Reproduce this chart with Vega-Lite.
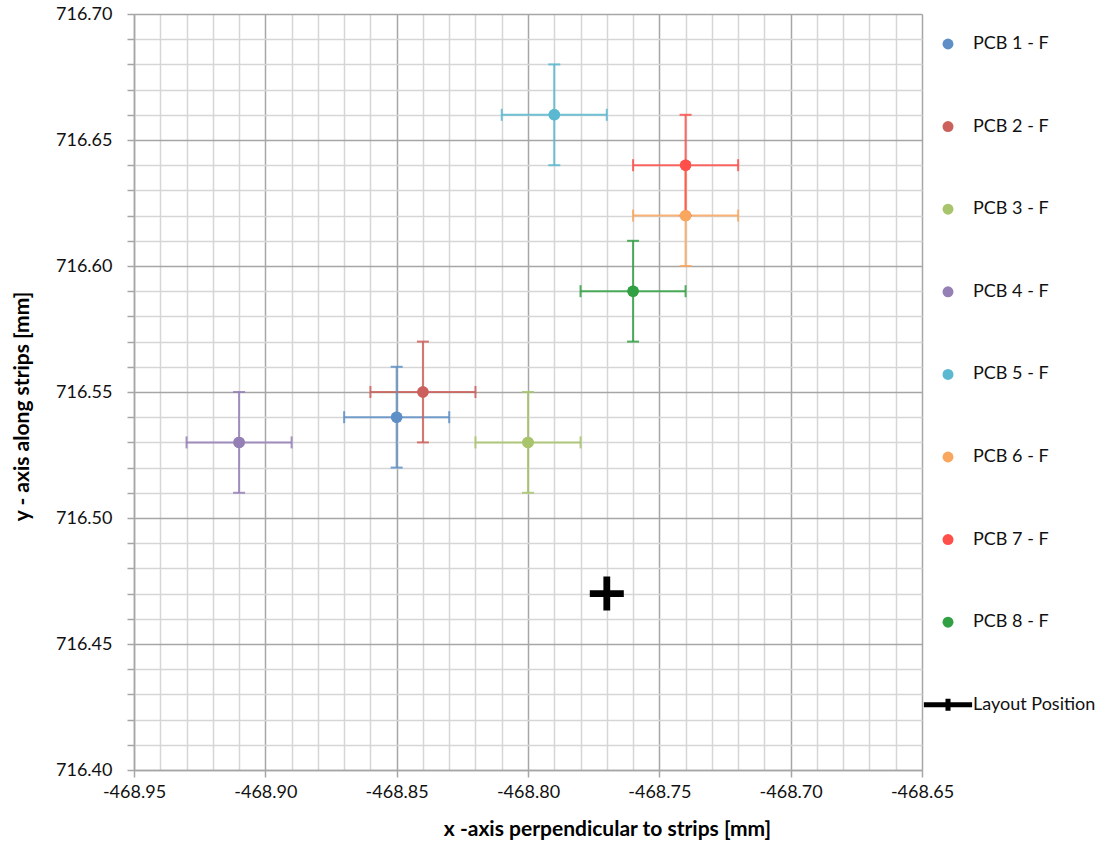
{
  "$schema": "https://vega.github.io/schema/vega-lite/v6.json",
  "width": 788,
  "height": 756,
  "autosize": {"type": "none"},
  "padding": {"left": 134, "top": 14, "right": 192, "bottom": 73},
  "background": "white",
  "config": {
    "view": {"stroke": null},
    "axis": {
      "labelFont": "Lato",
      "labelFontSize": 18,
      "labelColor": "#111111",
      "titleFont": "Lato",
      "titleFontSize": 21,
      "titleFontWeight": "bold",
      "titleColor": "#000000",
      "domainColor": "#a6a6a6",
      "domainWidth": 1.5,
      "tickColor": "#a6a6a6",
      "tickWidth": 1.5,
      "tickCount": 30,
      "labelOverlap": false,
      "labelFlush": false
    }
  },
  "data": {
    "values": [
      {"series": "PCB 1 - F", "x": -468.85, "y": 716.54, "xlo": -468.87, "xhi": -468.83, "ylo": 716.52, "yhi": 716.56},
      {"series": "PCB 2 - F", "x": -468.84, "y": 716.55, "xlo": -468.86, "xhi": -468.82, "ylo": 716.53, "yhi": 716.57},
      {"series": "PCB 3 - F", "x": -468.80, "y": 716.53, "xlo": -468.82, "xhi": -468.78, "ylo": 716.51, "yhi": 716.55},
      {"series": "PCB 4 - F", "x": -468.91, "y": 716.53, "xlo": -468.93, "xhi": -468.89, "ylo": 716.51, "yhi": 716.55},
      {"series": "PCB 5 - F", "x": -468.79, "y": 716.66, "xlo": -468.81, "xhi": -468.77, "ylo": 716.64, "yhi": 716.68},
      {"series": "PCB 6 - F", "x": -468.74, "y": 716.62, "xlo": -468.76, "xhi": -468.72, "ylo": 716.60, "yhi": 716.64},
      {"series": "PCB 7 - F", "x": -468.74, "y": 716.64, "xlo": -468.76, "xhi": -468.72, "ylo": 716.62, "yhi": 716.66},
      {"series": "PCB 8 - F", "x": -468.76, "y": 716.59, "xlo": -468.78, "xhi": -468.74, "ylo": 716.57, "yhi": 716.61},
      {"series": "Layout Position", "x": -468.77, "y": 716.47}
    ]
  },
  "layer": [
    {
      "transform": [{"filter": "datum.series != 'Layout Position'"}],
      "mark": {"type": "point", "filled": true, "size": 130, "opacity": 1},
      "encoding": {
        "x": {
          "field": "x", "type": "quantitative",
          "scale": {"domain": [-468.95, -468.65], "nice": false, "zero": false},
          "axis": {
            "title": "x -axis perpendicular to strips [mm]",
            "tickCount": 30,
            "format": ".2f",
            "labelExpr": "abs(round(datum.value*100)) % 5 == 0 ? replace(datum.label, '\u2212', '-') : ''",
            "grid": true,
            "gridWidth": 1.5,
            "gridColor": {"condition": {"test": "abs(round(datum.value*100)) % 5 == 0", "value": "#a6a6a6"}, "value": "#d6d6d6"},
            "tickSize": {"condition": {"test": "abs(round(datum.value*100)) % 5 == 0", "value": 7}, "value": 0},
            "labelPadding": 6,
            "titleX": 473,
            "titleY": 65,
            "titleBaseline": "alphabetic",
            "titleAlign": "center"
          }
        },
        "y": {
          "field": "y", "type": "quantitative",
          "scale": {"domain": [716.40, 716.70], "nice": false, "zero": false},
          "axis": {
            "title": "y - axis along strips [mm]",
            "tickCount": 30,
            "format": ".2f",
            "labelExpr": "abs(round(datum.value*100)) % 5 == 0 ? datum.label : ''",
            "grid": true,
            "gridWidth": 1.5,
            "gridColor": {"condition": {"test": "abs(round(datum.value*100)) % 5 == 0", "value": "#a6a6a6"}, "value": "#d6d6d6"},
            "tickSize": 7,
            "labelPadding": 15,
            "titleX": -106,
            "titleY": 392,
            "titleBaseline": "alphabetic",
            "titleAlign": "center",
            "titleAngle": -90
          }
        },
        "color": {
          "field": "series", "type": "nominal",
          "scale": {
            "domain": ["PCB 1 - F", "PCB 2 - F", "PCB 3 - F", "PCB 4 - F", "PCB 5 - F", "PCB 6 - F", "PCB 7 - F", "PCB 8 - F", "Layout Position"],
            "range": ["#5e8fc6", "#cc605c", "#a8c46c", "#9580b6", "#5ab8d0", "#f9a65f", "#fe4f4b", "#31a043", "#000000"]
          },
          "legend": {
            "title": null,
            "orient": "none",
            "legendX": 805,
            "legendY": 21,
            "direction": "vertical",
            "labelFont": "Lato",
            "labelFontSize": 18,
            "labelColor": "#111111",
            "labelOffset": 16,
            "symbolSize": 120,
            "symbolStrokeWidth": 0,
            "rowPadding": 64.6,
            "labelLimit": 300
          }
        },
        "shape": {
          "field": "series", "type": "nominal",
          "scale": {
            "domain": ["PCB 1 - F", "PCB 2 - F", "PCB 3 - F", "PCB 4 - F", "PCB 5 - F", "PCB 6 - F", "PCB 7 - F", "PCB 8 - F", "Layout Position"],
            "range": ["circle", "circle", "circle", "circle", "circle", "circle", "circle", "circle", "M-4.4,-0.46H-0.46V-1.1H0.46V-0.46H4.4V0.46H0.46V1.1H-0.46V0.46H-4.4Z"]
          },
          "legend": {
            "title": null,
            "orient": "none",
            "legendX": 805,
            "legendY": 21,
            "direction": "vertical",
            "labelFont": "Lato",
            "labelFontSize": 18,
            "labelColor": "#111111",
            "labelOffset": 16,
            "symbolSize": 120,
            "symbolStrokeWidth": 0,
            "rowPadding": 64.6,
            "labelLimit": 300
          }
        }
      }
    },
    {
      "transform": [{"filter": "datum.series != 'Layout Position'"}],
      "mark": {"type": "rule", "strokeWidth": 2, "opacity": 0.85},
      "encoding": {
        "x": {"field": "xlo", "type": "quantitative"},
        "x2": {"field": "xhi"},
        "y": {"field": "y", "type": "quantitative"},
        "color": {"field": "series", "type": "nominal", "legend": null}
      }
    },
    {
      "transform": [{"filter": "datum.series != 'Layout Position'"}],
      "mark": {"type": "rule", "strokeWidth": 2, "opacity": 0.85},
      "encoding": {
        "x": {"field": "x", "type": "quantitative"},
        "y": {"field": "ylo", "type": "quantitative"},
        "y2": {"field": "yhi"},
        "color": {"field": "series", "type": "nominal", "legend": null}
      }
    },
    {
      "transform": [{"filter": "datum.series != 'Layout Position'"}],
      "mark": {"type": "tick", "orient": "vertical", "size": 12, "thickness": 2, "opacity": 0.85},
      "encoding": {
        "x": {"field": "xlo", "type": "quantitative"},
        "y": {"field": "y", "type": "quantitative"},
        "color": {"field": "series", "type": "nominal", "legend": null}
      }
    },
    {
      "transform": [{"filter": "datum.series != 'Layout Position'"}],
      "mark": {"type": "tick", "orient": "vertical", "size": 12, "thickness": 2, "opacity": 0.85},
      "encoding": {
        "x": {"field": "xhi", "type": "quantitative"},
        "y": {"field": "y", "type": "quantitative"},
        "color": {"field": "series", "type": "nominal", "legend": null}
      }
    },
    {
      "transform": [{"filter": "datum.series != 'Layout Position'"}],
      "mark": {"type": "tick", "orient": "horizontal", "size": 12, "thickness": 2, "opacity": 0.85},
      "encoding": {
        "x": {"field": "x", "type": "quantitative"},
        "y": {"field": "ylo", "type": "quantitative"},
        "color": {"field": "series", "type": "nominal", "legend": null}
      }
    },
    {
      "transform": [{"filter": "datum.series != 'Layout Position'"}],
      "mark": {"type": "tick", "orient": "horizontal", "size": 12, "thickness": 2, "opacity": 0.85},
      "encoding": {
        "x": {"field": "x", "type": "quantitative"},
        "y": {"field": "yhi", "type": "quantitative"},
        "color": {"field": "series", "type": "nominal", "legend": null}
      }
    },
    {
      "transform": [{"filter": "datum.series != 'Layout Position'"}],
      "mark": {"type": "point", "filled": true, "size": 130, "opacity": 1},
      "encoding": {
        "x": {"field": "x", "type": "quantitative"},
        "y": {"field": "y", "type": "quantitative"},
        "color": {"field": "series", "type": "nominal", "legend": null}
      }
    },
    {
      "transform": [{"filter": "datum.series == 'Layout Position'"}],
      "mark": {"type": "point", "filled": true, "size": 1156, "color": "#000000", "opacity": 1, "shape": "M-1,-0.2H-0.2V-1H0.2V-0.2H1V0.2H0.2V1H-0.2V0.2H-1Z"},
      "encoding": {
        "x": {"field": "x", "type": "quantitative"},
        "y": {"field": "y", "type": "quantitative"}
      }
    }
  ]
}
